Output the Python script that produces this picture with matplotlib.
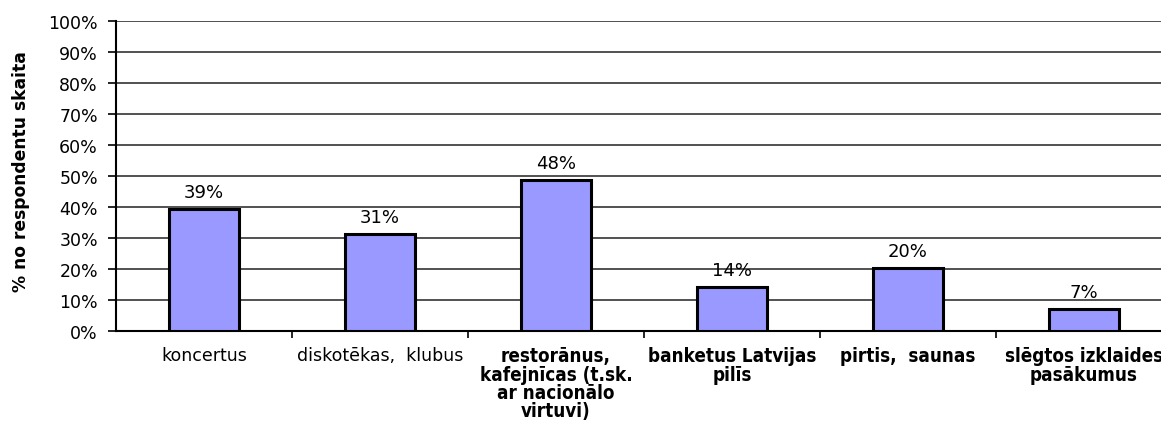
import matplotlib.pyplot as plt
import numpy as np

# categories and values (% of respondents)
categories = [
    "koncertus",
    "diskotēkas,  klubus",
    "restorānus,\nkafejnīcas (t.sk.\nar nacionālo\nvirtuvi)",
    "banketus Latvijas\npilīs",
    "pirtis,  saunas",
    "slēgtos izklaides\npasākumus",
]
bold_labels = [False, False, True, True, True, True]
values = [39.2, 31.4, 48.6, 14.3, 20.4, 7.1]
value_labels = ["39%", "31%", "48%", "14%", "20%", "7%"]
yticks = [0, 10, 20, 30, 40, 50, 60, 70, 80, 90, 100]

fig = plt.figure(figsize=(11.61, 4.39), dpi=100)
ax = fig.add_axes([0.0999, 0.2437, 0.9096, 0.7062])

x = np.arange(len(categories))
ax.bar(x, values, width=0.4, color="#9999FF", edgecolor="black", linewidth=2.2, zorder=3)

for xi, v, lab in zip(x, values, value_labels):
    ax.text(xi, v + 2.6, lab, ha="center", va="bottom", fontsize=13, family="DejaVu Sans")

ax.set_xlim(-0.5, len(categories) - 0.5)
ax.set_ylim(0, 100)
ax.set_yticks(yticks)
ax.set_yticklabels([f"{t}%" for t in yticks], fontsize=12.5)
ax.yaxis.grid(True, color="#222222", linewidth=1.1, zorder=0)
ax.set_axisbelow(True)

# tick marks on category boundaries, labels at category centres
ax.set_xticks(x)
ax.set_xticks(np.arange(0.5, len(categories) - 0.5, 1), minor=True)
ax.tick_params(axis="x", which="major", length=0, pad=11)
ax.tick_params(axis="x", which="minor", length=5, width=1.2, color="black")
ax.tick_params(axis="y", length=6, width=1.2, color="black", pad=7)
ax.set_xticklabels(categories)
for lab, b in zip(ax.get_xticklabels(), bold_labels):
    lab.set_va("top")
    lab.set_linespacing(0.95)
    lab.set_family("DejaVu Sans")
    if b:
        lab.set_fontweight("bold")
        lab.set_fontstretch("condensed")
        lab.set_fontsize(13.5)
    else:
        lab.set_fontsize(12.5)

for side in ["top", "right"]:
    ax.spines[side].set_visible(False)
for side in ["left", "bottom"]:
    ax.spines[side].set_linewidth(1.5)
    ax.spines[side].set_color("black")

ax.set_ylabel("% no respondentu skaita", fontsize=12.3, fontweight="bold")
ax.yaxis.set_label_coords(-0.0815, 0.516)

fig.savefig("out.png", dpi=100)
